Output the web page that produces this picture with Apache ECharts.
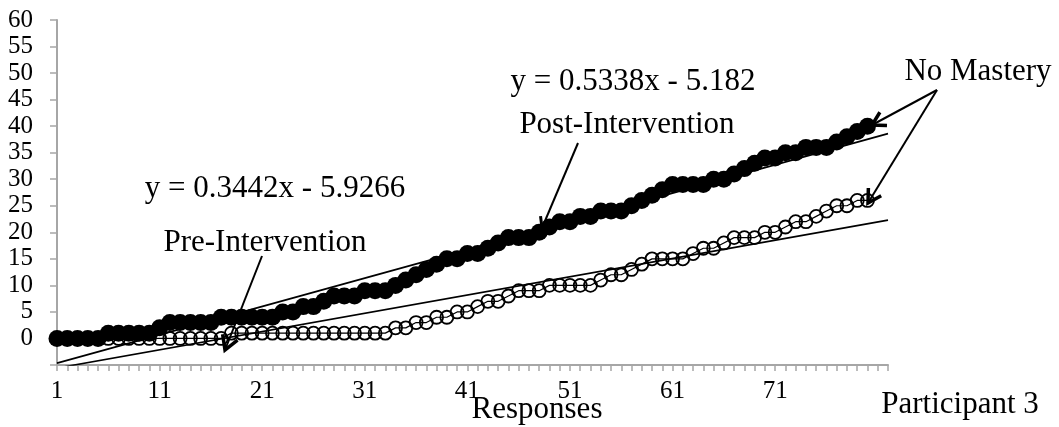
<!DOCTYPE html>
<html>
<head>
<meta charset="utf-8">
<script src="https://cdn.jsdelivr.net/npm/echarts@6/dist/echarts.min.js"></script>
<style>
  html, body { margin: 0; padding: 0; background: #fff; }
  #chart { width: 1059px; height: 427px; }
</style>
</head>
<body>
<div id="chart"></div>
<script>
// Response numbers along the x axis; the trend lines run two slots past the last response
const responseCount = 80;
const forecastSlots = 2;
const categories = [];
for (let i = 1; i <= responseCount + forecastSlots; i++) categories.push(String(i));

// Cumulative correct responses, Post-Intervention (filled markers)
const postValues = [
  0, 0, 0, 0, 0, 1, 1, 1, 1, 1,
  2, 3, 3, 3, 3, 3, 4, 4, 4, 4,
  4, 4, 5, 5, 6, 6, 7, 8, 8, 8,
  9, 9, 9, 10, 11, 12, 13, 14, 15, 15,
  16, 16, 17, 18, 19, 19, 19, 20, 21, 22,
  22, 23, 23, 24, 24, 24, 25, 26, 27, 28,
  29, 29, 29, 29, 30, 30, 31, 32, 33, 34,
  34, 35, 35, 36, 36, 36, 37, 38, 39, 40
];

// Cumulative correct responses, Pre-Intervention (open markers)
const preValues = [
  0, 0, 0, 0, 0, 0, 0, 0, 0, 0,
  0, 0, 0, 0, 0, 0, 0, 1, 1, 1,
  1, 1, 1, 1, 1, 1, 1, 1, 1, 1,
  1, 1, 1, 2, 2, 3, 3, 4, 4, 5,
  5, 6, 7, 7, 8, 9, 9, 9, 10, 10,
  10, 10, 10, 11, 12, 12, 13, 14, 15, 15,
  15, 15, 16, 17, 17, 18, 19, 19, 19, 20,
  20, 21, 22, 22, 23, 24, 25, 25, 26, 26
];

// Linear trend lines as printed on the chart
const postTrend = { slope: 0.5338, intercept: -5.182 };
const preTrend = { slope: 0.3442, intercept: -5.9266 };

const yTicks = { min: -5, max: 60, step: 5 };

function trendData(t) {
  const last = categories.length;
  return [
    [0, t.slope * 1 + t.intercept],
    [last - 1, t.slope * last + t.intercept]
  ];
}

const SERIF = '"Liberation Serif", "Times New Roman", serif';
const AXIS_GREY = '#a6a6a6';

// Arrow with an open "V" head
function arrow(x1, y1, x2, y2, head, width) {
  const ang = Math.atan2(y2 - y1, x2 - x1);
  const spread = Math.PI / 6;
  const hx1 = x2 - head * Math.cos(ang - spread);
  const hy1 = y2 - head * Math.sin(ang - spread);
  const hx2 = x2 - head * Math.cos(ang + spread);
  const hy2 = y2 - head * Math.sin(ang + spread);
  return [
    { type: 'line', shape: { x1: x1, y1: y1, x2: x2, y2: y2 },
      style: { stroke: '#000', lineWidth: 2 }, z: 100 },
    { type: 'polyline', shape: { points: [[hx1, hy1], [x2, y2], [hx2, hy2]] },
      style: { stroke: '#000', lineWidth: width, fill: null, lineJoin: 'miter' }, z: 100 }
  ];
}

function label(text, cx, cy, size) {
  return {
    type: 'text', x: cx, y: cy, z: 100,
    style: { text: text, font: size + 'px ' + SERIF, fill: '#000',
             textAlign: 'center', textVerticalAlign: 'middle' }
  };
}

const chart = echarts.init(document.getElementById('chart'));

chart.setOption({
  animation: false,
  backgroundColor: '#fff',
  grid: { left: 57, right: 171, top: 20, bottom: 62, containLabel: false },
  xAxis: {
    type: 'category',
    data: categories,
    boundaryGap: false,
    axisLine: { onZero: false, lineStyle: { color: AXIS_GREY, width: 2 } },
    axisTick: { show: true, interval: 0, length: 6, lineStyle: { color: AXIS_GREY, width: 1.5 } },
    axisLabel: {
      interval: 9, color: '#000', fontFamily: SERIF, fontSize: 25, margin: 14,
      formatter: function (v) { return Number(v) > responseCount ? '' : v; }
    },
    splitLine: { show: false }
  },
  yAxis: {
    type: 'value',
    min: yTicks.min,
    max: yTicks.max,
    interval: yTicks.step,
    axisLine: { show: true, lineStyle: { color: AXIS_GREY, width: 2 } },
    axisTick: { show: true, length: 7, lineStyle: { color: AXIS_GREY, width: 1.5 } },
    axisLabel: {
      color: '#000', fontFamily: SERIF, fontSize: 25, margin: 24,
      formatter: function (v) { return v < 0 ? '' : String(v); }
    },
    splitLine: { show: false }
  },
  series: [
    {
      name: 'Pre-Intervention',
      type: 'line',
      data: preValues,
      symbol: 'circle',
      symbolSize: 13,
      showAllSymbol: true,
      lineStyle: { color: '#000', width: 1.2 },
      itemStyle: { color: 'rgba(0,0,0,0)', borderColor: '#000', borderWidth: 1.8 },
      z: 3
    },
    {
      name: 'Post-Intervention',
      type: 'line',
      data: postValues,
      symbol: 'circle',
      symbolSize: 17,
      showAllSymbol: true,
      lineStyle: { color: '#000', width: 2 },
      itemStyle: { color: '#000', borderColor: '#000', borderWidth: 0 },
      z: 4
    },
    {
      name: 'Pre trend',
      type: 'line',
      data: trendData(preTrend),
      symbol: 'none',
      clip: true,
      lineStyle: { color: '#000', width: 1.6 },
      z: 5
    },
    {
      name: 'Post trend',
      type: 'line',
      data: trendData(postTrend),
      symbol: 'none',
      clip: true,
      lineStyle: { color: '#000', width: 1.6 },
      z: 5
    }
  ],
  graphic: [
    label('y = 0.3442x - 5.9266', 275, 189, 31),
    label('Pre-Intervention', 265, 243, 31),
    label('y = 0.5338x - 5.182', 633, 82, 31),
    label('Post-Intervention', 627, 125, 31),
    label('No Mastery', 978, 72, 31),
    label('Responses', 537, 410, 31),
    label('Participant 3', 960, 405, 31)
  ]
    .concat(arrow(262, 256, 225, 350, 16, 3.5))
    .concat(arrow(578, 143, 542, 228, 12, 3))
    .concat(arrow(937, 90, 872, 125, 15, 3.5))
    .concat(arrow(937, 90, 868, 203, 15, 3.5))
});
</script>
</body>
</html>
